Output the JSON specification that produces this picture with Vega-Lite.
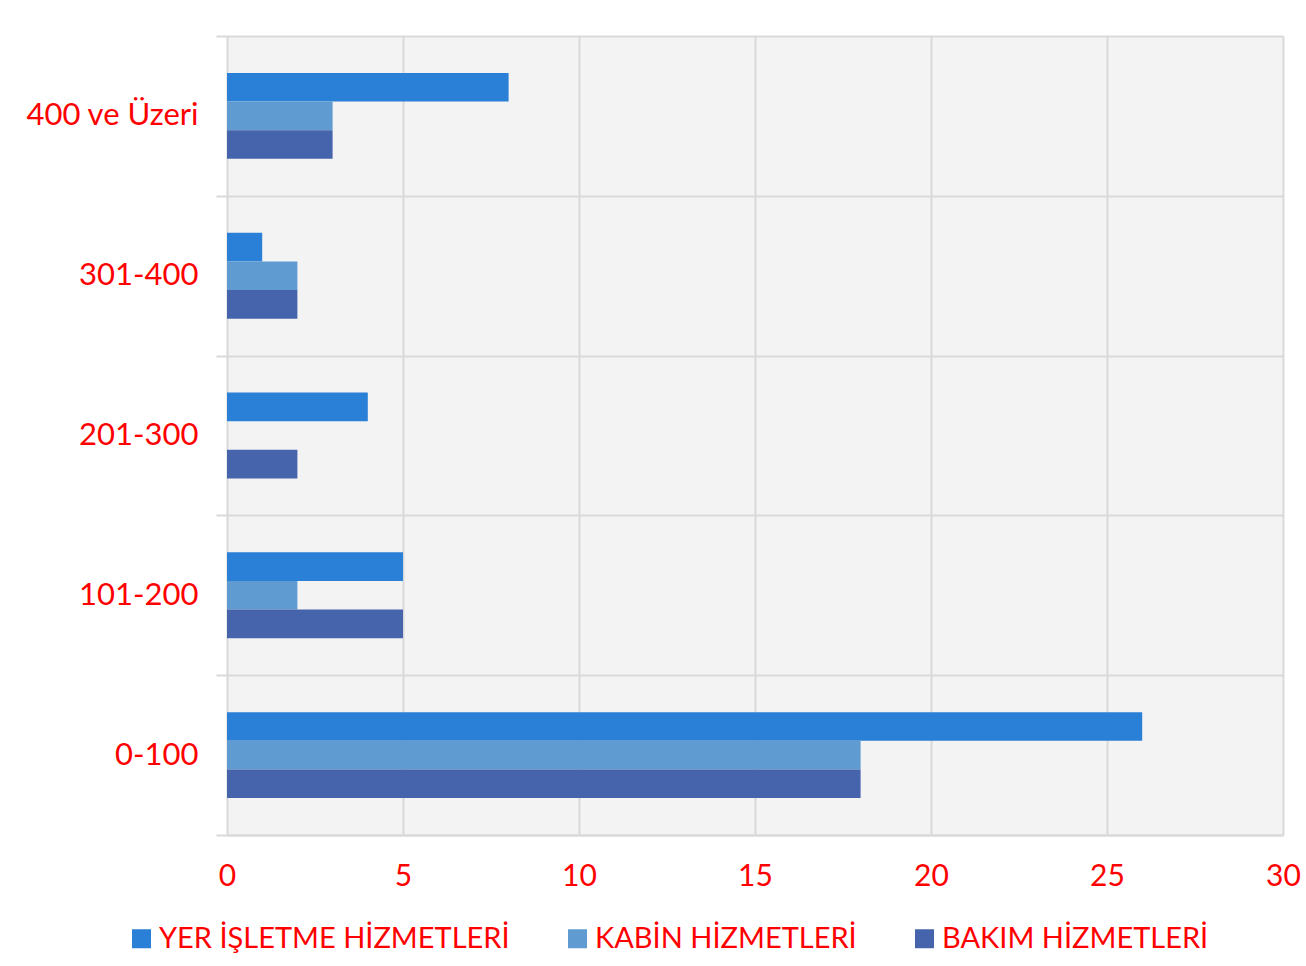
{
  "$schema": "https://vega.github.io/schema/vega-lite/v6.json",
  "width": 1056,
  "height": 799,
  "autosize": {"type": "none"},
  "padding": {"left": 227, "top": 36, "right": 23, "bottom": 131},
  "background": "#ffffff",
  "config": {
    "view": {"fill": "#f3f3f3", "stroke": null},
    "font": "Lato"
  },
  "data": {
    "values": [
      {"group": "400 ve Üzeri", "series": "YER İŞLETME HİZMETLERİ", "value": 8},
      {"group": "400 ve Üzeri", "series": "KABİN HİZMETLERİ", "value": 3},
      {"group": "400 ve Üzeri", "series": "BAKIM HİZMETLERİ", "value": 3},
      {"group": "301-400", "series": "YER İŞLETME HİZMETLERİ", "value": 1},
      {"group": "301-400", "series": "KABİN HİZMETLERİ", "value": 2},
      {"group": "301-400", "series": "BAKIM HİZMETLERİ", "value": 2},
      {"group": "201-300", "series": "YER İŞLETME HİZMETLERİ", "value": 4},
      {"group": "201-300", "series": "KABİN HİZMETLERİ", "value": 0},
      {"group": "201-300", "series": "BAKIM HİZMETLERİ", "value": 2},
      {"group": "101-200", "series": "YER İŞLETME HİZMETLERİ", "value": 5},
      {"group": "101-200", "series": "KABİN HİZMETLERİ", "value": 2},
      {"group": "101-200", "series": "BAKIM HİZMETLERİ", "value": 5},
      {"group": "0-100", "series": "YER İŞLETME HİZMETLERİ", "value": 26},
      {"group": "0-100", "series": "KABİN HİZMETLERİ", "value": 18},
      {"group": "0-100", "series": "BAKIM HİZMETLERİ", "value": 18}
    ]
  },
  "mark": {"type": "bar"},
  "encoding": {
    "y": {
      "field": "group",
      "type": "nominal",
      "sort": ["400 ve Üzeri", "301-400", "201-300", "101-200", "0-100"],
      "scale": {"paddingInner": 0, "paddingOuter": 0},
      "axis": {
        "title": null,
        "tickBand": "extent",
        "grid": true,
        "gridColor": "#d9d9d9",
        "gridWidth": 2,
        "domain": false,
        "ticks": true,
        "tickColor": "#d9d9d9",
        "tickWidth": 2,
        "tickSize": 11,
        "labelPadding": 18,
        "labelColor": "#ff0000",
        "labelFontSize": 31,
        "labelFont": "Lato"
      }
    },
    "yOffset": {
      "field": "series",
      "type": "nominal",
      "scale": {
        "domain": ["_a", "YER İŞLETME HİZMETLERİ", "KABİN HİZMETLERİ", "BAKIM HİZMETLERİ", "_b"],
        "paddingInner": 0,
        "paddingOuter": 0.29
      }
    },
    "x": {
      "field": "value",
      "type": "quantitative",
      "scale": {"domain": [0, 30], "nice": false},
      "axis": {
        "title": null,
        "values": [0, 5, 10, 15, 20, 25, 30],
        "grid": true,
        "gridColor": "#d9d9d9",
        "gridWidth": 2,
        "domain": true,
        "domainColor": "#d9d9d9",
        "domainWidth": 2,
        "ticks": false,
        "labelPadding": 26,
        "labelColor": "#ff0000",
        "labelFontSize": 30,
        "labelFont": "Lato",
        "labelFlush": false
      }
    },
    "color": {
      "field": "series",
      "type": "nominal",
      "scale": {
        "domain": ["YER İŞLETME HİZMETLERİ", "KABİN HİZMETLERİ", "BAKIM HİZMETLERİ"],
        "range": ["#2a7fd6", "#5f9bd0", "#4664ac"]
      },
      "legend": {
        "title": null,
        "orient": "none",
        "direction": "horizontal",
        "padding": 0,
        "legendX": -100,
        "legendY": 888,
        "symbolType": "square",
        "symbolSize": 361,
        "symbolStrokeWidth": 0,
        "labelColor": "#ff0000",
        "labelFontSize": 29,
        "labelFont": "Lato",
        "labelOffset": 3,
        "columnPadding": 53,
        "labelLimit": 500
      }
    }
  }
}
